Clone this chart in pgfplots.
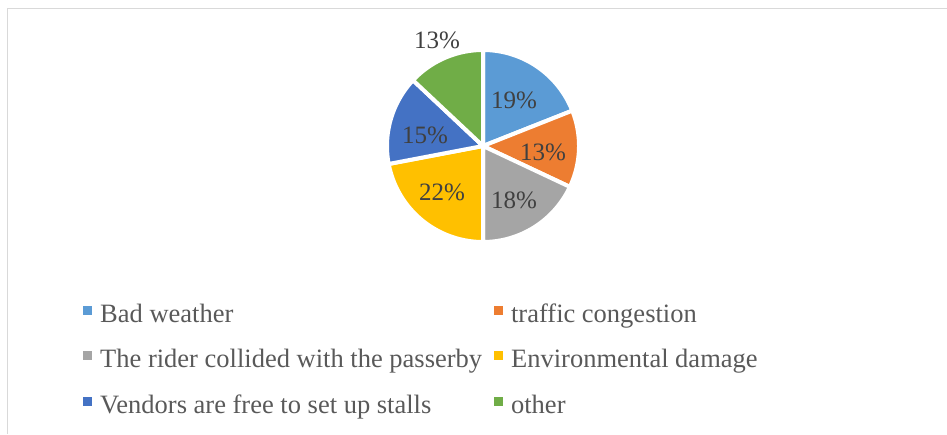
\documentclass[border=0pt]{standalone}
\usepackage{pgfplots}
\pgfplotsset{compat=1.18}
\usepackage{pgfplotstable}
\usepackage{fontspec}
\setmainfont{Liberation Serif}
\definecolor{cA}{HTML}{5B9BD5}
\definecolor{cB}{HTML}{ED7D31}
\definecolor{cC}{HTML}{A5A5A5}
\definecolor{cD}{HTML}{FFC000}
\definecolor{cE}{HTML}{4472C4}
\definecolor{cF}{HTML}{70AD47}
\definecolor{labc}{HTML}{404040}
\definecolor{legc}{HTML}{595959}
\definecolor{framec}{HTML}{D9D9D9}
\pgfplotstableread[col sep=comma]{
label,value
Bad weather,19
traffic congestion,13
The rider collided with the passerby,18
Environmental damage,22
Vendors are free to set up stalls,15
other,13
}\piedata
\begin{document}
\begin{tikzpicture}
\pgfplotstablegetelem{0}{value}\of\piedata \let\vA\pgfplotsretval
\pgfplotstablegetelem{1}{value}\of\piedata \let\vB\pgfplotsretval
\pgfplotstablegetelem{2}{value}\of\piedata \let\vC\pgfplotsretval
\pgfplotstablegetelem{3}{value}\of\piedata \let\vD\pgfplotsretval
\pgfplotstablegetelem{4}{value}\of\piedata \let\vE\pgfplotsretval
\pgfplotstablegetelem{5}{value}\of\piedata \let\vF\pgfplotsretval
\pgfmathsetmacro\aA{90}
\pgfmathsetmacro\aB{\aA-3.6*\vA}
\pgfmathsetmacro\aC{\aB-3.6*\vB}
\pgfmathsetmacro\aD{\aC-3.6*\vC}
\pgfmathsetmacro\aE{\aD-3.6*\vD}
\pgfmathsetmacro\aF{\aE-3.6*\vE}
\pgfmathsetmacro\aG{\aF-3.6*\vF}
\begin{axis}[
  width=947pt, height=434pt, scale only axis,
  xmin=0, xmax=947, ymin=0, ymax=434,
  hide axis, clip=false,
  legend columns=2,
  legend cell align=left,
  legend style={at={(axis cs:83,130)}, anchor=north west, draw=none, fill=none,
    inner sep=0pt, column sep=8pt, row sep=21.5pt,
    font=\fontsize{26.5}{30}\selectfont, text=legc,
    nodes={inner sep=0pt, text height=18pt, text depth=6pt},
    /tikz/every even column/.append style={column sep=12pt}},
  legend image code/.code={\fill[#1,draw=none] (0pt,1.5pt) rectangle (9pt,10.5pt);},
]
\path (axis cs:0,0) rectangle (axis cs:947,434);
\draw[framec, line width=1pt] (axis cs:7.5,0) -- (axis cs:7.5,425.5) -- (axis cs:946.5,425.5);
\addplot[fill=cA, draw=white, line width=4pt, domain=\aB:\aA, samples=60]
  ({483+96*cos(x)},{288+96*sin(x)}) -- (axis cs:483,288) -- cycle;
\addlegendentry{Bad weather}
\addplot[fill=cB, draw=white, line width=4pt, domain=\aC:\aB, samples=60]
  ({483+96*cos(x)},{288+96*sin(x)}) -- (axis cs:483,288) -- cycle;
\addlegendentry{traffic congestion}
\addplot[fill=cC, draw=white, line width=4pt, domain=\aD:\aC, samples=60]
  ({483+96*cos(x)},{288+96*sin(x)}) -- (axis cs:483,288) -- cycle;
\addlegendentry{The rider collided with the passerby}
\addplot[fill=cD, draw=white, line width=4pt, domain=\aE:\aD, samples=60]
  ({483+96*cos(x)},{288+96*sin(x)}) -- (axis cs:483,288) -- cycle;
\addlegendentry{Environmental damage}
\addplot[fill=cE, draw=white, line width=4pt, domain=\aF:\aE, samples=60]
  ({483+96*cos(x)},{288+96*sin(x)}) -- (axis cs:483,288) -- cycle;
\addlegendentry{Vendors are free to set up stalls}
\addplot[fill=cF, draw=white, line width=4pt, domain=\aG:\aF, samples=60]
  ({483+96*cos(x)},{288+96*sin(x)}) -- (axis cs:483,288) -- cycle;
\addlegendentry{other}
\begin{scope}[every node/.style={text=labc, font=\fontsize{25}{30}\selectfont, inner sep=0pt}]
\node at (axis cs:514,333.5) {19\%};
\node at (axis cs:543,282) {13\%};
\node at (axis cs:514,234) {18\%};
\node at (axis cs:442,242) {22\%};
\node at (axis cs:425,298.5) {15\%};
\node at (axis cs:437,393.5) {13\%};
\end{scope}
\end{axis}
\end{tikzpicture}
\end{document}
